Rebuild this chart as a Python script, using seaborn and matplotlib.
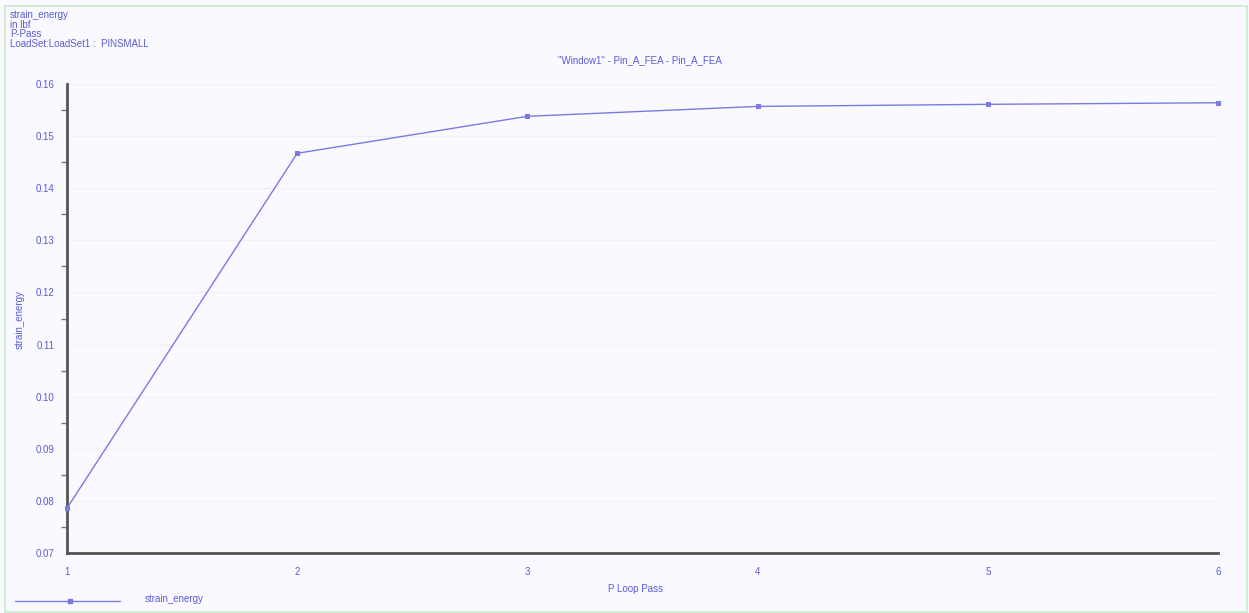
import matplotlib
matplotlib.use("Agg")
import matplotlib.pyplot as plt
from matplotlib.patches import Rectangle
from matplotlib.lines import Line2D
from matplotlib.ticker import MultipleLocator
import numpy as np
import pandas as pd
import seaborn as sns

# Convergence of strain energy over p-loop passes
passes = [1, 2, 3, 4, 5, 6]
strain_energy = [0.0786, 0.1467, 0.1538, 0.1557, 0.1561, 0.1564]
y_ticks = [0.07, 0.08, 0.09, 0.10, 0.11, 0.12, 0.13, 0.14, 0.15, 0.16]
header_lines = ["strain_energy", "in lbf", "P-Pass", "LoadSet:LoadSet1 :  PINSMALL"]

sns.set_theme(style="white")
plt.rcParams["font.family"] = ["Liberation Sans", "DejaVu Sans"]

TXT = "#5b5bd6"
LINE = "#7a7ae0"
BG = "#f9f9ff"

df = pd.DataFrame({"pass": passes, "strain_energy": strain_energy})

fig = plt.figure(figsize=(12.49, 6.13), dpi=100, facecolor=BG)
ax = fig.add_axes([67 / 1249, 1 - 553 / 613, (1218 - 67) / 1249, (553 - 84) / 613])
ax.set_facecolor(BG)

sns.lineplot(data=df, x="pass", y="strain_energy", ax=ax, color=LINE, linewidth=1.0,
             marker="s", markersize=3.5, markeredgecolor=LINE, markerfacecolor=LINE,
             clip_on=False, zorder=4)

ax.set_xlim(1, 6)
ax.set_ylim(0.07, 0.16)
ax.set_xticks(passes)
ax.set_xticklabels([str(p) for p in passes])
ax.set_yticks(y_ticks)
ax.set_yticklabels([f"{v:.2f}" for v in y_ticks])
ax.yaxis.set_minor_locator(MultipleLocator(0.005))

for side in ("top", "right"):
    ax.spines[side].set_visible(False)
for side in ("left", "bottom"):
    ax.spines[side].set_color("#555555")
    ax.spines[side].set_linewidth(2.0)

ax.tick_params(axis="both", which="major", direction="out", length=6, width=1.2,
               color="#555555", labelsize=7, labelcolor=TXT, pad=3)
ax.tick_params(axis="y", which="minor", direction="out", length=4, width=1.0,
               color="#777777", left=True)
ax.tick_params(axis="x", which="major", length=7)
ax.grid(axis="y", which="major", color="#f0f0f8", linewidth=1.0)
ax.set_axisbelow(True)

ax.set_xlabel("")
ax.set_ylabel("")

# Text annotations
fig.text(10 / 1249, 1 - 10 / 613, "\n".join(header_lines), fontsize=7, color=TXT,
         va="top", ha="left", linespacing=0.95)
fig.text(640 / 1249, 1 - 60 / 613, "\"Window1\" - Pin_A_FEA - Pin_A_FEA", fontsize=7,
         color=TXT, ha="center", va="center")
fig.text(20 / 1249, 1 - 320 / 613, "strain_energy", fontsize=7, color=TXT,
         rotation=90, ha="center", va="center")
fig.text(635 / 1249, 1 - 589 / 613, "P Loop Pass", fontsize=7, color=TXT,
         ha="center", va="center")

# Legend entry at the bottom left
fig.add_artist(Line2D([15 / 1249, 120 / 1249], [1 - 601 / 613, 1 - 601 / 613],
                      transform=fig.transFigure, color=LINE, linewidth=1.0))
fig.add_artist(Line2D([70 / 1249], [1 - 601 / 613], transform=fig.transFigure,
                      color=LINE, marker="s", markersize=3.5, linestyle="none"))
fig.text(145 / 1249, 1 - 599 / 613, "strain_energy", fontsize=7, color=TXT,
         ha="left", va="center")

# Thin green frame around the whole figure
fig.add_artist(Rectangle((5 / 1249, 0.002), 1 - 7 / 1249, 1 - 7 / 613,
                         transform=fig.transFigure, fill=False,
                         edgecolor="#c8eac8", linewidth=1.2))

fig.savefig("out.png", dpi=100, facecolor=BG)
